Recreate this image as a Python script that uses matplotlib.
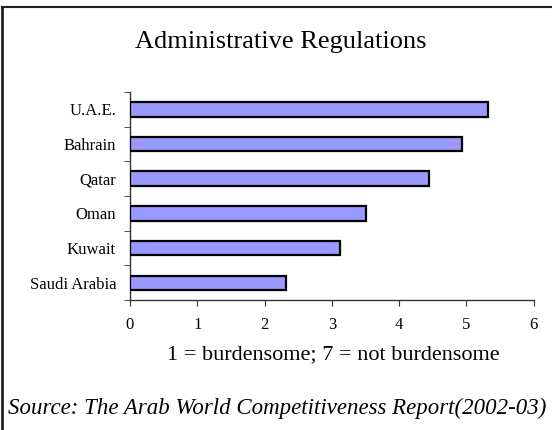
import matplotlib
matplotlib.use('Agg')

import matplotlib.pyplot as plt
import numpy as np

matplotlib.rcParams['font.family'] = 'Liberation Serif'

countries = ['Saudi Arabia', 'Kuwait', 'Oman', 'Qatar', 'Bahrain', 'U.A.E.']
scores = [2.32, 3.12, 3.51, 4.44, 4.93, 5.32]

fig = plt.figure(figsize=(5.52, 4.30), dpi=100)
ax = fig.add_axes([0.2355, 0.302, 0.7315, 0.484])

ypos = np.arange(len(countries))
ax.barh(ypos, scores, height=0.42, color='#9999FF', edgecolor='black',
        linewidth=1.6, zorder=3)

ax.set_xlim(0, 6)
ax.set_ylim(-0.5, len(countries) - 0.5)
ax.set_xticks(range(0, 7))
ax.set_yticks(ypos)
ax.set_yticklabels(countries)
ax.set_yticks(np.arange(-0.5, len(countries)), minor=True)

for side in ['top', 'right']:
  ax.spines[side].set_visible(False)
for side in ['left', 'bottom']:
  ax.spines[side].set_color('#333333')
  ax.spines[side].set_linewidth(1.0)

ax.tick_params(axis='y', which='major', length=0, pad=10, labelsize=12)
ax.tick_params(axis='y', which='minor', length=4, color='#333333')
ax.tick_params(axis='x', which='major', length=4, color='#333333', pad=8,
               labelsize=12)

fig.text(0.508, 0.902, 'Administrative Regulations',
         ha='center', va='center', fontsize=19)
fig.text(0.603, 0.174, '1 = burdensome; 7 = not burdensome',
         ha='center', va='center', fontsize=16)
fig.text(0.502, 0.051, 'Source: The Arab World Competitiveness Report(2002-03)',
         ha='center', va='center', fontsize=16.5, style='italic')

# frame lines along the top and left edge
fig.add_artist(plt.Line2D([0.004, 1.0], [0.984, 0.984], color='#222222',
                          linewidth=1.5, transform=fig.transFigure))
fig.add_artist(plt.Line2D([0.004, 0.004], [0.0, 0.984], color='#222222',
                          linewidth=2.0, transform=fig.transFigure))

plt.savefig('out.png', dpi=100)
